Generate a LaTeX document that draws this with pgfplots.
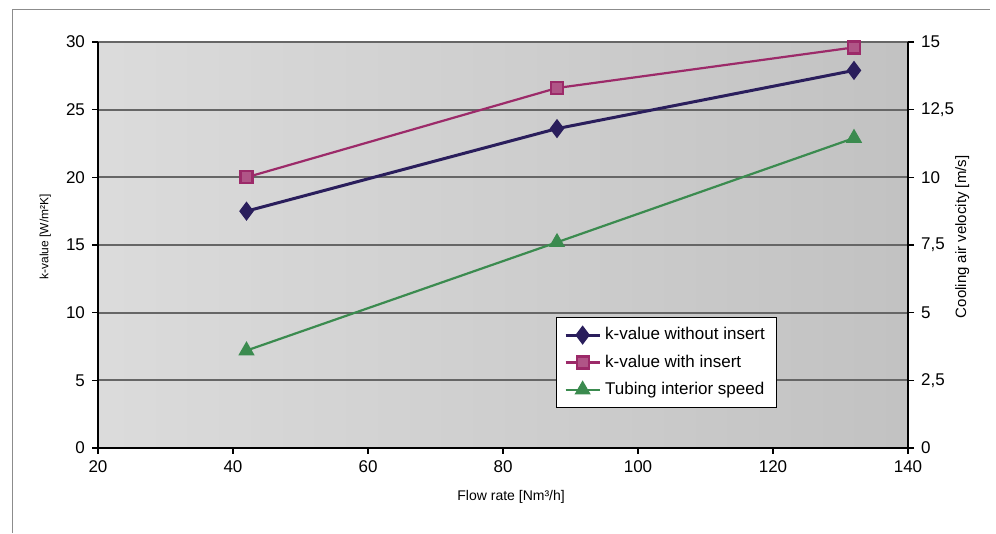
\documentclass[border=0pt]{standalone}
\usepackage{fontspec}
\setmainfont{Liberation Sans}
\usepackage{pgfplots}
\pgfplotsset{compat=1.18}
\definecolor{kno}{HTML}{2A1E5C}
\definecolor{kins}{HTML}{9C2A69}
\definecolor{tube}{HTML}{3B8B4F}

\begin{document}
\begin{tikzpicture}
\pgfplotsset{
  every axis/.append style={
    scale only axis, width=405pt, height=203pt,
    xmin=20, xmax=140,
    tick align=outside, major tick length=3pt,
    tick style={black, line width=0.6pt},
    ticklabel style={font=\fontsize{8.5}{9}\selectfont},
    /pgf/number format/assume math mode=true,
    axis line style={line width=1pt},
  }
}
% left axis: k-values
\begin{axis}[name=ax,
  ymin=0, ymax=30, ytick={0,5,...,30},
  xtick={20,40,...,140},
  axis y line*=left, axis x line*=bottom,
  ymajorgrids, grid style={black!60, line width=0.9pt},
  axis background/.style={shade, left color=black!14, right color=black!24},
  xlabel={Flow rate [Nm³/h]}, ylabel={k-value [W/m²K]},
  every axis x label/.style={at={(axis description cs:0.51,-0.121)}, anchor=center, font=\fontsize{7}{8}\selectfont},
  every axis y label/.style={at={(axis description cs:-0.065,0.52)}, rotate=90, anchor=center, font=\fontsize{6}{7}\selectfont},
]
\addplot[kno, line width=1.5pt, mark=diamond*, mark size=3.6pt] coordinates {(42,17.5) (88,23.6) (132,27.9)};
\addplot[kins, line width=1.1pt, mark=square*, mark size=3pt, mark options={fill=kins!80}] coordinates {(42,20.0) (88,26.6) (132,29.6)};
\end{axis}
% right axis: air velocity
\begin{axis}[
  ymin=0, ymax=15, ytick={0,2.5,...,15},
  axis y line*=right, axis x line=none,
  /pgf/number format/use comma,
  ylabel={Cooling air velocity [m/s]},
  every axis y label/.style={at={(axis description cs:1.067,0.52)}, rotate=90, anchor=center, font=\fontsize{7.5}{8}\selectfont},
  legend style={at={(0.565,0.099)}, anchor=south west, draw=black, fill=white,
    font=\fontsize{8.5}{9}\selectfont, row sep=2pt, inner xsep=4pt, inner ysep=3pt},
  legend cell align=left,
]
\addlegendimage{kno, line width=1.5pt, mark=diamond*, mark size=3.6pt}
\addlegendentry{k-value without insert}
\addlegendimage{kins, line width=1.1pt, mark=square*, mark size=3pt, mark options={fill=kins!80}}
\addlegendentry{k-value with insert}
\addplot[tube, line width=1.1pt, mark=triangle*, mark size=3.6pt] coordinates {(42,3.6) (88,7.6) (132,11.45)};
\addlegendentry{Tubing interior speed}
\end{axis}
% chart area frame
\draw[black!45, line width=0.5pt] ([shift={(-42.5pt,-42.5pt)}]ax.south west) -- ([shift={(-42.5pt,219pt)}]ax.south west) -- ([shift={(446pt,219pt)}]ax.south west);
\path[use as bounding box] ([shift={(-49pt,-42.5pt)}]ax.south west) rectangle ([shift={(449pt,224pt)}]ax.south west);
\end{tikzpicture}
\end{document}
